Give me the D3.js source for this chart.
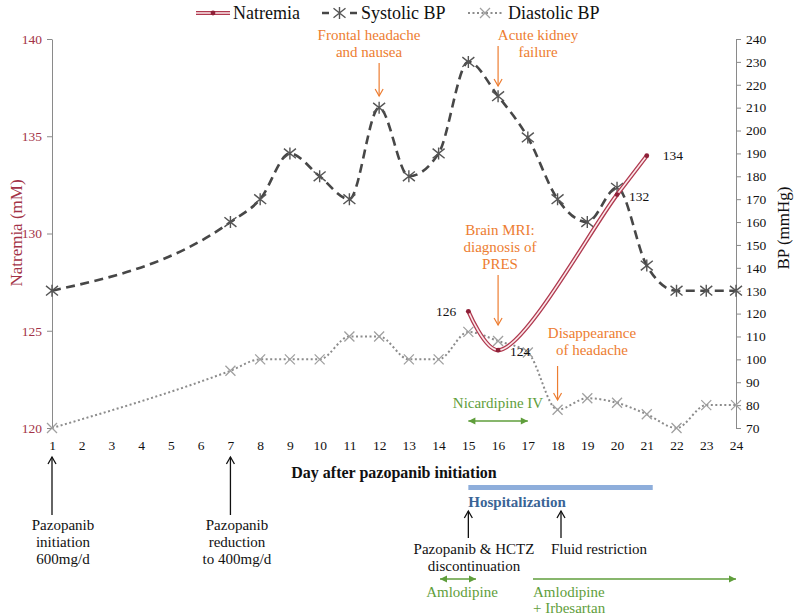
<!DOCTYPE html>
<html><head><meta charset="utf-8">
<script src="https://cdn.jsdelivr.net/npm/d3@7"></script>
<style>body{margin:0;background:#fff}svg{display:block}text{font-family:"Liberation Serif",serif}</style>
</head><body><svg id="c" width="794" height="616"></svg>
<script>
// ---- data ----
const bpDays = [1,7,8,9,10,11,12,13,14,15,16,17,18,19,20,21,22,23,24];
const systolic = [130,160,170,190,180,170,210,180,190,230,215,197,170,160,175,141,130,130,130];
const diastolic = [70,95,100,100,100,110,110,100,100,112,108,103,78,83,81,76,70,80,80];
const natDays = [15,16,20,21];
const natremia = [126,124,132,134];
const natLabels = ["126","124","132","134"];
const dayTicks = d3.range(1,25);
const natTicks = [120,125,130,135,140];
const bpTicks = d3.range(70,241,10);
const legendNames = ["Natremia","Systolic BP","Diastolic BP"];

const svg = d3.select("#c");
const x = d3.scaleLinear().domain([1,24]).range([52,736]);
const yN = d3.scaleLinear().domain([120,140]).range([428,39]);
const yB = d3.scaleLinear().domain([70,240]).range([428,39]);

const RED="#a33347", ORANGE="#ed7d31", GREEN="#5f9e3b", BLUE="#3a6496";

// axes
const gl = svg.append("g").attr("transform","translate(52,0)")
  .call(d3.axisLeft(yN).tickValues(natTicks).tickSize(5).tickSizeOuter(0).tickPadding(5));
gl.selectAll("path,line").attr("stroke","#8a8a8a");
gl.selectAll("text").attr("fill",RED).style("font-size","13.5px").style("font-family","Liberation Serif");
const gr = svg.append("g").attr("transform","translate(736,0)")
  .call(d3.axisRight(yB).tickValues(bpTicks).tickSize(5).tickSizeOuter(0).tickPadding(5));
gr.selectAll("path,line").attr("stroke","#8a8a8a");
gr.selectAll("text").attr("fill","#111").style("font-size","13.5px").style("font-family","Liberation Serif");
const gb = svg.append("g").attr("transform","translate(0,430)")
  .call(d3.axisBottom(x).tickValues(dayTicks).tickSize(0).tickPadding(10).tickFormat(d3.format("d")));
gb.select(".domain").remove();
gb.selectAll("text").attr("fill","#111").style("font-size","13.5px").style("font-family","Liberation Serif");

svg.append("text").attr("transform","translate(16,233) rotate(-90)").attr("text-anchor","middle")
  .attr("dominant-baseline","central").attr("fill",RED).style("font-size","17px").text("Natremia (mM)");
svg.append("text").attr("transform","translate(783,228) rotate(-90)").attr("text-anchor","middle")
  .attr("dominant-baseline","central").attr("fill","#111").style("font-size","17px").text("BP (mmHg)");
svg.append("text").attr("x",394).attr("y",472).attr("text-anchor","middle").attr("dominant-baseline","central")
  .attr("fill","#111").style("font-size","16px").style("font-weight","bold").text("Day after pazopanib initiation");

// series
const bpLine = d3.line().curve(d3.curveMonotoneX);
const natLine = d3.line().curve(d3.curveCatmullRom.alpha(0.5));
const sysPts = bpDays.map((d,i)=>[x(d), yB(systolic[i])]);
const diaPts = bpDays.map((d,i)=>[x(d), yB(diastolic[i])]);
const natPts = natDays.map((d,i)=>[x(d), yN(natremia[i])]);

svg.append("path").attr("d",bpLine(diaPts)).attr("fill","none").attr("stroke","#8c8c8c")
  .attr("stroke-width",2).attr("stroke-dasharray","2,2.5");
svg.append("path").attr("d",bpLine(sysPts)).attr("fill","none").attr("stroke","#474747")
  .attr("stroke-width",2.6).attr("stroke-dasharray","9,5.5");

function xMark(g,cx,cy,s,col){
  g.append("path").attr("d",`M${cx-s},${cy-s}L${cx+s},${cy+s}M${cx-s},${cy+s}L${cx+s},${cy-s}`)
   .attr("stroke",col).attr("stroke-width",1.3).attr("fill","none");
}
function star(g,cx,cy,s,col){
  g.append("path").attr("d",`M${cx-s},${cy-s*0.8}L${cx+s},${cy+s*0.8}M${cx-s},${cy+s*0.8}L${cx+s},${cy-s*0.8}M${cx},${cy-s}L${cx},${cy+s}`)
   .attr("stroke",col).attr("stroke-width",1.4).attr("fill","none");
}
const mk = svg.append("g");
diaPts.forEach(p=>xMark(mk,p[0],p[1],5,"#a0a0a0"));
sysPts.forEach(p=>star(mk,p[0],p[1],6,"#555"));

// natremia double line
svg.append("path").attr("d",natLine(natPts)).attr("fill","none").attr("stroke","#b03a50").attr("stroke-width",4.2);
svg.append("path").attr("d",natLine(natPts)).attr("fill","none").attr("stroke","#fbe8ea").attr("stroke-width",1.6);
svg.selectAll(".nd").data(natPts).enter().append("circle").attr("cx",d=>d[0]).attr("cy",d=>d[1]).attr("r",2.4).attr("fill","#8e2038");
const natLabPos = [[-12,0,"end"],[12,1,"start"],[12,2,"start"],[16,0,"start"]];
natPts.forEach((p,i)=>{
  svg.append("text").attr("x",p[0]+natLabPos[i][0]).attr("y",p[1]+natLabPos[i][1]).attr("text-anchor",natLabPos[i][2])
   .attr("dominant-baseline","central").attr("fill","#111").style("font-size","13.5px").text(natLabels[i]);
});

// helpers
function arrowV(x0,y1,y2,col,w){ // from y1 to y2, head at y2
  const g = svg.append("g").attr("stroke",col).attr("stroke-width",w||1.3).attr("fill","none");
  g.append("line").attr("x1",x0).attr("x2",x0).attr("y1",y1).attr("y2",y2);
  const dir = y2>y1?-1:1;
  g.append("path").attr("d",`M${x0-4},${y2+dir*7}L${x0},${y2}L${x0+4},${y2+dir*7}`);
}
function arrowH(x1,x2,y0,col,both){
  const g = svg.append("g");
  g.append("line").attr("x1",x1).attr("x2",x2).attr("y1",y0).attr("y2",y0).attr("stroke",col).attr("stroke-width",1.5);
  g.append("path").attr("d",`M${x2},${y0}L${x2-7},${y0-3.5}L${x2-7},${y0+3.5}Z`).attr("fill",col);
  if(both) g.append("path").attr("d",`M${x1},${y0}L${x1+7},${y0-3.5}L${x1+7},${y0+3.5}Z`).attr("fill",col);
}
function txt(lines,cx,cy,col,anchor,size,weight,lh){
  lines.forEach((t,i)=>svg.append("text").attr("x",cx).attr("y",cy+i*(lh||17)).attr("text-anchor",anchor||"middle")
    .attr("dominant-baseline","central").attr("fill",col).style("font-size",(size||15)+"px")
    .style("font-weight",weight||"normal").text(t));
}

// orange annotations
txt(["Frontal headache","and nausea"],369,35,ORANGE);
arrowV(x(12),63,96,ORANGE,1.2);
txt(["Acute kidney","failure"],538,35,ORANGE);
arrowV(x(16),46,86,ORANGE,1.2);
txt(["Brain MRI:","diagnosis of","PRES"],500,230,ORANGE);
arrowV(x(16),275,325,ORANGE,1.2);
txt(["Disappearance","of headache"],592,333,ORANGE);
arrowV(x(18),366,400,ORANGE,1.2);
txt(["Nicardipine IV"],498,403,GREEN);
arrowH(x(15),x(17),421,GREEN,true);

// bottom timeline
arrowV(x(1),515,457,"#111",1.3);
arrowV(x(7),515,457,"#111",1.3);
txt(["Pazopanib","initiation","600mg/d"],63,525,"#111");
txt(["Pazopanib","reduction","to 400mg/d"],237,525,"#111");
svg.append("rect").attr("x",x(15)).attr("y",485).attr("width",x(21.2)-x(15)).attr("height",5).attr("fill","#8eaedb");
txt(["Hospitalization"],x(15),502,BLUE,"start",15,"bold");
arrowV(x(15),538,511,"#111",1.3);
arrowV(561,538,511,"#111",1.3);
txt(["Pazopanib & HCTZ","discontinuation"],474,549,"#111");
txt(["Fluid restriction"],599,549,"#111");
arrowH(440,476,579,GREEN,true);
txt(["Amlodipine"],462,592,GREEN);
arrowH(533,736,579,GREEN,false);
txt(["Amlodipine","+ Irbesartan"],533,592,GREEN,"start",15,"normal",15.5);

// legend
const lg = svg.append("g");
lg.append("line").attr("x1",196).attr("x2",230).attr("y1",13).attr("y2",13).attr("stroke","#b03a50").attr("stroke-width",4.2);
lg.append("line").attr("x1",196).attr("x2",230).attr("y1",13).attr("y2",13).attr("stroke","#fbe8ea").attr("stroke-width",1.6);
lg.append("circle").attr("cx",213).attr("cy",13).attr("r",2.4).attr("fill","#8e2038");
lg.append("line").attr("x1",322).attr("x2",357).attr("y1",13).attr("y2",13).attr("stroke","#474747").attr("stroke-width",2.6).attr("stroke-dasharray","7,21,7");
star(lg,339.5,13,6,"#555");
lg.append("line").attr("x1",468).attr("x2",502).attr("y1",13).attr("y2",13).attr("stroke","#8c8c8c").attr("stroke-width",2).attr("stroke-dasharray","2,2.5");
xMark(lg,485,13,5,"#a0a0a0");
[[233,legendNames[0]],[361,legendNames[1]],[508,legendNames[2]]].forEach(d=>
  lg.append("text").attr("x",d[0]).attr("y",13).attr("dominant-baseline","central").attr("fill","#111").style("font-size","18px").text(d[1]));
</script></body></html>
